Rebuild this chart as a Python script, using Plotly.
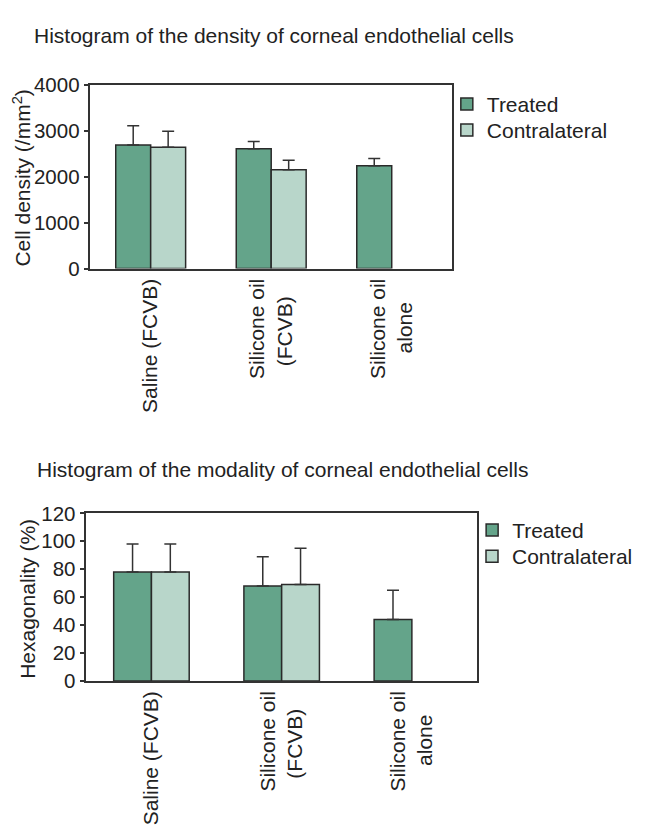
import plotly.graph_objects as go

# ---- data ----
categories = ["Saline (FCVB)", "Silicone oil (FCVB)", "Silicone oil alone"]
tick_labels = ["Saline (FCVB)",
               "Silicone oil<br>(FCVB)\u00a0\u00a0\u00a0",
               "Silicone oil<br>alone\u00a0\u00a0\u00a0\u00a0"]
density_treated = [2690, 2610, 2240]
density_treated_sd = [420, 160, 160]
density_contra = [2640, 2150, None]
density_contra_sd = [350, 210, None]

hexa_treated = [78, 68, 44]
hexa_treated_sd = [20, 21, 21]
hexa_contra = [78, 69, None]
hexa_contra_sd = [20, 26, None]

density_ticks = [0, 1000, 2000, 3000, 4000]
hexa_ticks = [0, 20, 40, 60, 80, 100, 120]

title_top = "Histogram of the density of corneal endothelial cells"
title_bottom = "Histogram of the modality of corneal endothelial cells"
ytitle_top = "Cell density (/mm<sup>2</sup>)"
ytitle_bottom = "Hexagonality (%)"

# ---- style ----
# the page body keeps its default 8px margin, so the figure is drawn
# 8px smaller on each side and positions below are page pixels minus 8
OFF = 8
W, H = 646 - 2 * OFF, 840 - 2 * OFF
C_TREATED = "#64a48a"
C_CONTRA = "#b8d6ca"
EDGE = "#2a2a2a"
TXT = "#222222"
FONT = "Liberation Sans, Arial, sans-serif"
FS = 21


def px_x(p):
    return (p - OFF) / W


def px_y(p):
    return 1 - (p - OFF) / H


def err(sd):
    return dict(type="data", symmetric=False, array=sd,
                arrayminus=[0 if v is not None else None for v in sd],
                color="#333333", thickness=1.5, width=6)


def bar(y, sd, name, color, xa, ya, leg):
    return go.Bar(x=categories, y=y, name=name, showlegend=True,
                  marker=dict(color=color, line=dict(color=EDGE, width=1.5)),
                  error_y=err(sd), xaxis=xa, yaxis=ya, legend=leg)


fig = go.Figure()
fig.add_trace(bar(density_treated, density_treated_sd, "Treated", C_TREATED, "x", "y", "legend"))
fig.add_trace(bar(density_contra, density_contra_sd, "Contralateral", C_CONTRA, "x", "y", "legend3"))
fig.add_trace(bar(hexa_treated, hexa_treated_sd, "Treated", C_TREATED, "x2", "y2", "legend2"))
fig.add_trace(bar(hexa_contra, hexa_contra_sd, "Contralateral", C_CONTRA, "x2", "y2", "legend4"))

axis_common = dict(showline=True, linecolor="#333333", linewidth=1.5, mirror=True,
                   showgrid=False, zeroline=False)
xcommon = dict(tickangle=-90, ticks="", range=[-0.5, 2.5],
               tickmode="array", tickvals=categories, ticktext=tick_labels)
ycommon = dict(ticks="outside", ticklen=5, tickwidth=1.5, tickcolor="#333333",
               tickfont=dict(size=20.5))


def leg(x, y):
    return dict(x=px_x(x), y=px_y(y), xanchor="left", yanchor="top", visible=True,
                bgcolor="rgba(0,0,0,0)", font=dict(size=FS), itemwidth=30)


def text(s, x, y, xanchor="left", angle=0):
    return dict(text=s, x=px_x(x), y=px_y(y), xref="paper", yref="paper",
                xanchor=xanchor, yanchor="middle", showarrow=False, textangle=angle,
                font=dict(size=FS, color=TXT))


fig.update_layout(
    width=W, height=H,
    margin=dict(l=0, r=0, t=0, b=0),
    showlegend=True,
    paper_bgcolor="white", plot_bgcolor="white",
    font=dict(family=FONT, size=FS, color=TXT),
    barmode="group", bargap=0.42, bargroupgap=0,
    xaxis=dict(domain=[px_x(92.7), px_x(464.3)], anchor="y", **xcommon, **axis_common),
    yaxis=dict(domain=[px_y(263.7), px_y(74.8)], anchor="x", range=[0, 4000],
               tickvals=density_ticks, **ycommon, **axis_common),
    xaxis2=dict(domain=[px_x(88.5), px_x(490)], anchor="y2", **xcommon, **axis_common),
    yaxis2=dict(domain=[px_y(688), px_y(515.5)], anchor="x2", range=[0, 120],
                tickvals=hexa_ticks, **ycommon, **axis_common),
    legend=leg(459, 73.8),
    legend3=leg(459, 100.5),
    legend2=leg(485, 511.8),
    legend4=leg(485, 538.8),
    annotations=[
        text(title_top, 33, 24),
        text(title_bottom, 36, 470),
        text(ytitle_top, 22.5, 171, xanchor="center", angle=-90),
        text(ytitle_bottom, 28, 603, xanchor="center", angle=-90),
    ],
)

fig.write_html("out.html")
